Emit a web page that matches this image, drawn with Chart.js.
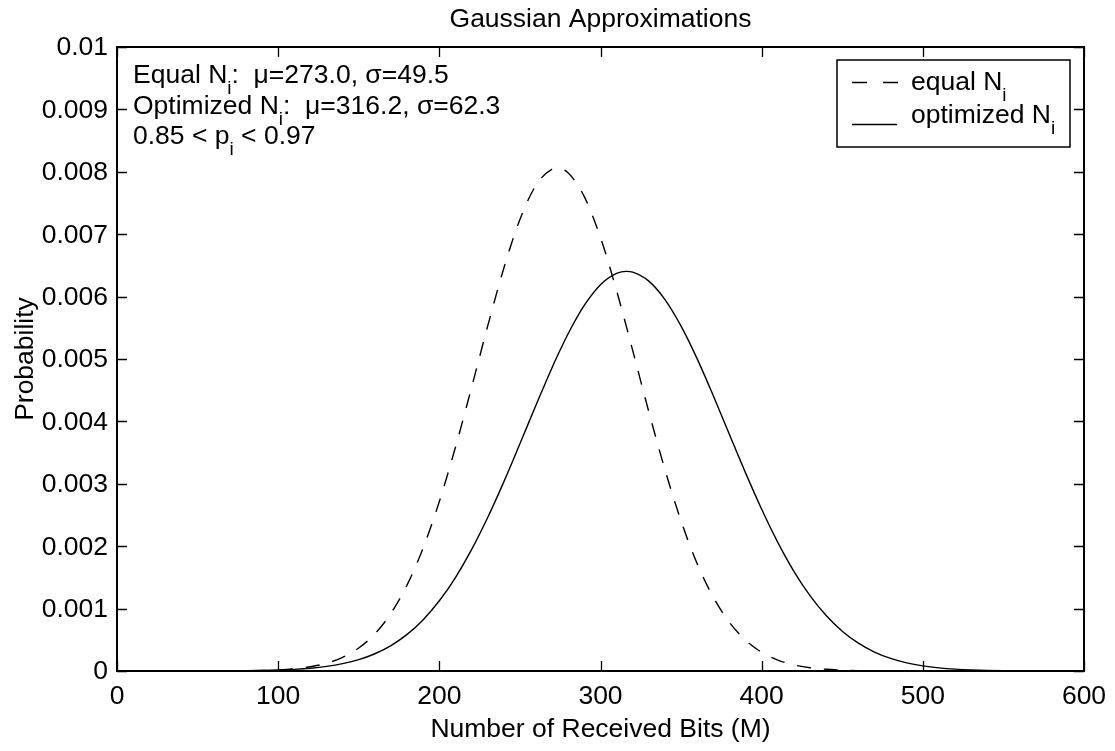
<!DOCTYPE html>
<html>
<head>
<meta charset="utf-8">
<script src="https://cdn.jsdelivr.net/npm/chart.js@4.4.1/dist/chart.umd.min.js"></script>
<style>
  html, body { margin: 0; padding: 0; background: #ffffff; }
  #wrap { width: 1115px; height: 751px; }
</style>
</head>
<body>
<div id="wrap"><canvas id="c" width="1115" height="751"></canvas></div>
<script>
// ---------- data ----------
const xValues = [0,10,20,30,40,50,60,70,80,90,100,110,120,130,140,150,160,170,180,190,200,
  210,220,230,240,250,260,270,273,280,290,300,310,316,320,330,340,350,360,370,380,390,400,
  410,420,430,440,450,460,470,480,490,500,510,520,530,540,550,560,570,580,590,600];

const equalValues = [0,0,0,0,0,0,0.0000008,0.0000018,0.000004,0.0000087,0.0000179,
  0.0000356,0.0000679,0.0001242,0.0002181,0.0003678,0.0005954,0.0009249,0.00138,0.001976,0.002717,
  0.003586,0.004543,0.005527,0.006454,0.007235,0.007786,0.008045,0.00806,0.007979,0.007598,0.006946,
  0.006095,0.005527,0.005135,0.004153,0.003225,0.002404,0.00172,0.001182,0.000779,0.000493,0.0003,
  0.000175,0.000098,0.0000527,0.0000272,0.0000135,0.0000064,0.0000029,0.0000013,0,0,
  0,0,0,0,0,0,0,0,0,0];

const optimizedValues = [0,0,0,0,0,0.0000007,0.0000014,0.0000026,0.0000048,0.0000088,0.0000155,
  0.0000268,0.000045,0.0000736,0.0001174,0.0001824,0.0002763,0.0004079,0.0005868,0.0008229,0.001125,
  0.001498,0.001944,0.002459,0.003031,0.003641,0.004263,0.004864,0.005035,0.005409,0.005862,0.006191,
  0.006372,0.006404,0.006392,0.006248,0.005953,0.005527,0.005002,0.004411,0.003791,0.003175,0.002592,
  0.002062,0.001598,0.001208,0.000889,0.000638,0.000446,0.000304,0.000202,0.000131,0.0000826,
  0.0000507,0.0000304,0.0000178,0.0000101,0.0000056,0.000003,0.0000016,0.0000008,0.0000004,0.0000002];

const xTicks = [0,100,200,300,400,500,600];
const xTickLabels = ['0','100','200','300','400','500','600'];
const yTicks = [0,0.001,0.002,0.003,0.004,0.005,0.006,0.007,0.008,0.009,0.01];
const yTickLabels = ['0','0.001','0.002','0.003','0.004','0.005','0.006','0.007','0.008','0.009','0.01'];

const seriesNames = ['equal N', 'optimized N'];
const titleText = 'Gaussian Approximations';
const xTitle = 'Number of Received Bits (M)';
const yTitle = 'Probability';
const noteLines = [
  [{t:'Equal N'},{t:'i',sub:true},{t:':  \u03bc=273.0, \u03c3=49.5'}],
  [{t:'Optimized N'},{t:'i',sub:true},{t:':  \u03bc=316.2, \u03c3=62.3'}],
  [{t:'0.85 < p'},{t:'i',sub:true},{t:' < 0.97'}]
];

// ---------- styling ----------
const FONT = '"Liberation Sans", Arial, Helvetica, sans-serif';
const FS = 26.5, SUBFS = 19, SUBDY = 11;

function toPoints(xs, ys) { return xs.map((x, i) => ({x: x, y: ys[i]})); }

function drawRich(ctx, x, y, segs) {
  let cx = x;
  for (const s of segs) {
    if (s.sub) {
      ctx.font = SUBFS + 'px ' + FONT;
      ctx.fillText(s.t, cx, y + SUBDY);
    } else {
      ctx.font = FS + 'px ' + FONT;
      ctx.fillText(s.t, cx, y);
    }
    cx += ctx.measureText(s.t).width;
  }
  return cx;
}

const decorPlugin = {
  id: 'decor',
  afterDraw(chart) {
    const ctx = chart.ctx;
    const a = chart.chartArea;
    const xs = chart.scales.x, ys = chart.scales.y;
    ctx.save();
    ctx.fillStyle = '#000';
    ctx.strokeStyle = '#000';

    // ticks (inward, mirrored)
    ctx.lineWidth = 1.3;
    const TL = 10;
    ctx.beginPath();
    xTicks.forEach(v => {
      const px = Math.round(xs.getPixelForValue(v)) + 0.5;
      ctx.moveTo(px, a.bottom); ctx.lineTo(px, a.bottom - TL);
      ctx.moveTo(px, a.top); ctx.lineTo(px, a.top + TL);
    });
    yTicks.forEach(v => {
      const py = Math.round(ys.getPixelForValue(v)) + 0.5;
      ctx.moveTo(a.left, py); ctx.lineTo(a.left + TL, py);
      ctx.moveTo(a.right, py); ctx.lineTo(a.right - TL, py);
    });
    ctx.stroke();

    // axes box
    ctx.lineWidth = 2;
    ctx.strokeRect(a.left, a.top, a.right - a.left, a.bottom - a.top);

    // tick labels
    ctx.font = FS + 'px ' + FONT;
    ctx.textAlign = 'center';
    ctx.textBaseline = 'alphabetic';
    xTicks.forEach((v, i) => {
      ctx.fillText(xTickLabels[i], xs.getPixelForValue(v), a.bottom + 33);
    });
    ctx.textAlign = 'right';
    ctx.textBaseline = 'middle';
    yTicks.forEach((v, i) => {
      ctx.fillText(yTickLabels[i], a.left - 9, ys.getPixelForValue(v) + 1);
    });

    // title & axis titles
    ctx.textAlign = 'center';
    ctx.textBaseline = 'alphabetic';
    const cxm = (a.left + a.right) / 2;
    ctx.fillText(titleText, cxm, 27);
    ctx.fillText(xTitle, cxm, 737);
    ctx.save();
    ctx.translate(33, (a.top + a.bottom) / 2);
    ctx.rotate(-Math.PI / 2);
    ctx.fillText(yTitle, 0, 0);
    ctx.restore();

    // annotation text
    ctx.textAlign = 'left';
    const noteBase = [83, 114, 144];
    noteLines.forEach((segs, i) => drawRich(ctx, a.left + 16, noteBase[i], segs));

    // legend box
    const lb = {x: 837, y: 60, w: 233, h: 87};
    ctx.fillStyle = '#fff';
    ctx.fillRect(lb.x, lb.y, lb.w, lb.h);
    ctx.lineWidth = 1.5;
    ctx.strokeRect(lb.x, lb.y, lb.w, lb.h);
    ctx.fillStyle = '#000';
    ctx.lineWidth = 1.3;
    ctx.beginPath();
    ctx.setLineDash([15, 16]);
    ctx.moveTo(852, 82.5); ctx.lineTo(898, 82.5);
    ctx.stroke();
    ctx.setLineDash([]);
    ctx.beginPath();
    ctx.moveTo(852, 124.5); ctx.lineTo(897, 124.5);
    ctx.stroke();
    drawRich(ctx, 911, 90, [{t: seriesNames[0]}, {t:'i', sub:true}]);
    drawRich(ctx, 911, 123, [{t: seriesNames[1]}, {t:'i', sub:true}]);

    ctx.restore();
  }
};

new Chart(document.getElementById('c'), {
  type: 'line',
  data: {
    datasets: [
      {
        label: seriesNames[0],
        data: toPoints(xValues, equalValues),
        borderColor: '#000',
        borderWidth: 1.4,
        borderDash: [14, 13],
        pointRadius: 0,
        fill: false,
        cubicInterpolationMode: 'monotone'
      },
      {
        label: seriesNames[1],
        data: toPoints(xValues, optimizedValues),
        borderColor: '#000',
        borderWidth: 1.4,
        pointRadius: 0,
        fill: false,
        cubicInterpolationMode: 'monotone'
      }
    ]
  },
  options: {
    responsive: false,
    animation: false,
    layout: { padding: { left: 117, top: 47, right: 31, bottom: 80 } },
    plugins: { legend: { display: false }, title: { display: false }, tooltip: { enabled: false } },
    scales: {
      x: { type: 'linear', min: 0, max: 600, display: false },
      y: { type: 'linear', min: 0, max: 0.01, display: false }
    }
  },
  plugins: [decorPlugin]
});
</script>
</body>
</html>
